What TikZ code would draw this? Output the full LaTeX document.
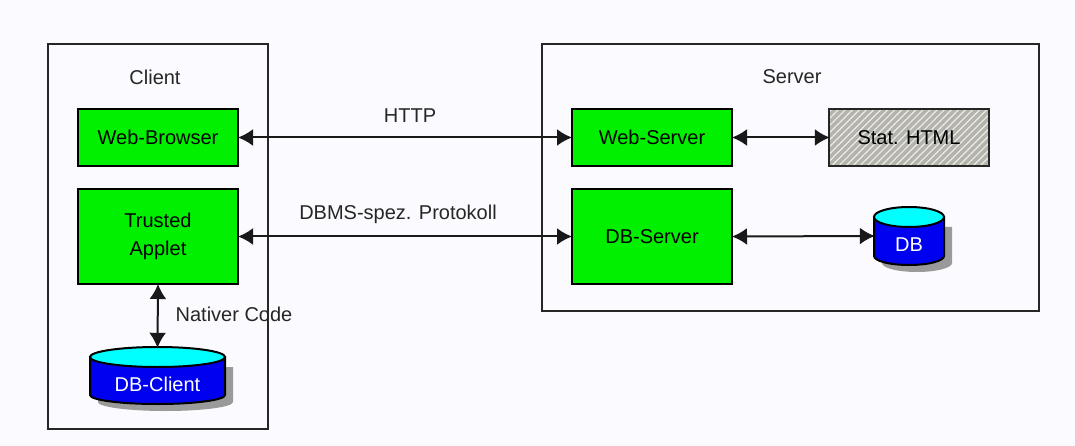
\documentclass[tikz,border=0pt]{standalone}
\usepackage{fontspec}
\setmainfont{Liberation Sans}
\usetikzlibrary{arrows.meta,patterns.meta}
\definecolor{bgc}{HTML}{FBFBFF}
\definecolor{grn}{HTML}{00F000}
\definecolor{blu}{HTML}{0000F0}
\definecolor{cya}{HTML}{00FFFF}
\definecolor{hatch}{HTML}{B4B4AC}
\definecolor{shad}{HTML}{9A9A9A}
\tikzset{
  frame/.style={draw=black!85,line width=2pt},
  greenbox/.style={draw=black,line width=2pt,fill=grn,minimum width=160pt,inner sep=0pt,align=center,font=\fontsize{20}{28}\selectfont},
  lbl/.style={font=\fontsize{20}{24}\selectfont,inner sep=0pt,text=black!85},
  cylbox/.style={inner sep=0pt,text=white,font=\fontsize{20}{24}\selectfont},
  link/.style={line width=2pt,draw=black!90,{Latex[length=15pt,width=17pt]}-{Latex[length=15pt,width=17pt]},shorten <=-1pt,shorten >=-1pt},
}
% #1 name, #2 centre x, #3 centre y, #4 half width, #5 half height, #6 text
\newcommand{\cyl}[6]{%
  \node[cylbox,minimum width=#4*2pt,minimum height=#5*2pt] (#1) at (#2,#3) {};
  \begin{scope}[shift={(#2,#3)}]
    \fill[shad] (-#4+8,-#5+20) -- (#4+8,-#5+20) -- (#4+8,#5-2) arc[start angle=0,end angle=180,x radius=#4,y radius=9] -- cycle;
    \draw[line width=2pt,fill=blu] (-#4,-#5+10) -- (-#4,#5-9) arc[start angle=180,end angle=0,x radius=#4,y radius=9] -- (#4,-#5+10) -- cycle;
    \draw[line width=2pt,fill=cya] (0,-#5+10) ellipse[x radius=#4,y radius=10];
    \node[cylbox] at (0,9) {#6};
  \end{scope}
}
\begin{document}
\begin{tikzpicture}[x=1pt,y=-1pt]
\fill[bgc] (0,0) rectangle (1075,446);
\useasboundingbox (0,0) rectangle (1075,446);
\node[frame,minimum width=220pt,minimum height=385pt,inner sep=0pt] (client) at (158,236.5) {};
\node[frame,minimum width=497pt,minimum height=267pt,inner sep=0pt] (server) at (790.5,177.5) {};
\node[lbl] (clientlbl) at (155,77) {Client};
\node[lbl] (serverlbl) at (792,77) {Server};
\node[greenbox,minimum height=57pt] (browser) at (158,137.5) {Web-Browser};
\node[greenbox,minimum height=95pt] (applet) at (158,236.5) {Trusted\\Applet};
\node[greenbox,minimum height=57pt] (webserver) at (652,137.5) {Web-Server};
\node[greenbox,minimum height=95pt] (dbserver) at (652,236.5) {DB-Server};
\node[minimum width=160pt,minimum height=57pt,inner sep=0pt,fill=hatch] (html) at (909,137.5) {};
\fill[pattern={Lines[angle=45,distance=5pt,line width=1.2pt]},pattern color=white!75!hatch] (html.south west) rectangle (html.north east);
\node[minimum width=160pt,minimum height=57pt,inner sep=0pt,draw=black!85,line width=2pt,font=\fontsize{20}{24}\selectfont] at (909,137.5) {Stat. HTML};
\cyl{db}{909}{236}{35}{29}{DB}
\cyl{dbclient}{157.5}{375.5}{67.5}{28.5}{DB-Client}
\draw[link] (browser.east) -- (webserver.west);
\draw[link] (applet.east) -- (dbserver.west);
\draw[link] (webserver.east) -- (html.west);
\draw[link] (dbserver.east) -- (db.west);
\draw[link] (applet.south) -- (dbclient.north);
\node[lbl] (http) at (410,116) {HTTP};
\node[lbl] (dbms) at (398,214) {DBMS-spez. Protokoll};
\node[lbl] (nativ) at (234,314) {Nativer Code};
\end{tikzpicture}
\end{document}
